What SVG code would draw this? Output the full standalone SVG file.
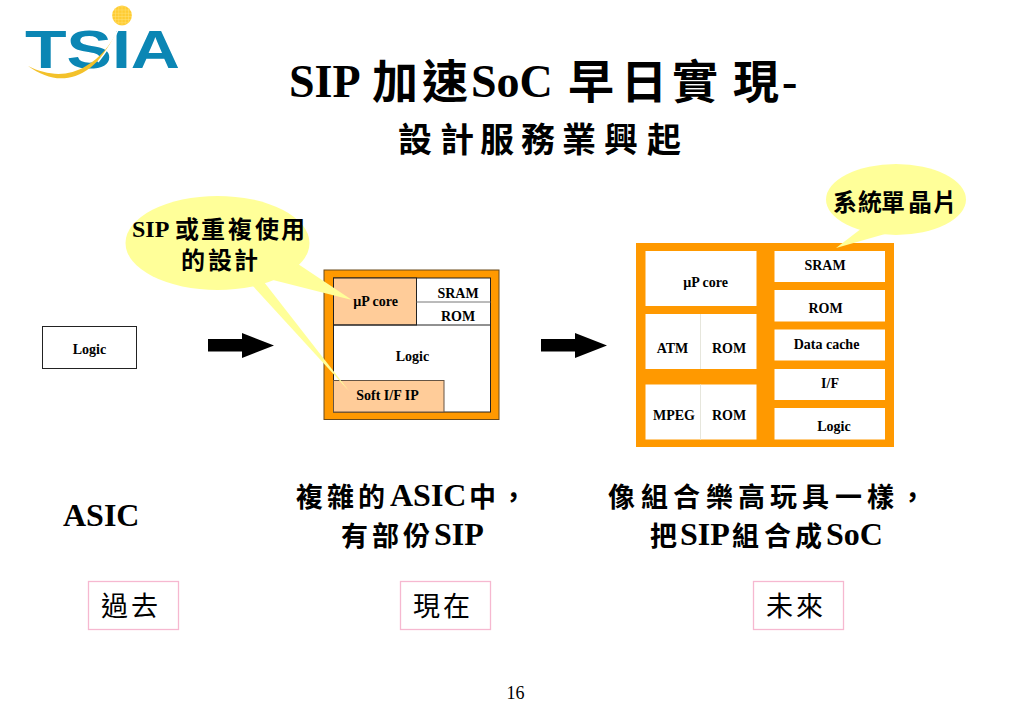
<svg xmlns="http://www.w3.org/2000/svg" width="1023" height="708" viewBox="0 0 1023 708">
<style>
text{font-family:"Liberation Serif","Noto Sans CJK TC",serif;fill:#000}
.b{font-weight:700}
.s{font-size:14px;font-weight:700;text-anchor:middle}
.m{font-size:32px;font-weight:700}
.c{font-family:"Noto Sans CJK TC","Liberation Serif",serif;font-weight:700}
.r{font-family:"Noto Sans CJK TC","Liberation Serif",serif;font-size:27px;font-weight:400;text-anchor:middle;letter-spacing:3px}
.w{fill:#fff}
.o{fill:#f90}
.p{fill:#fc9;stroke:#222;stroke-width:1}
.y{fill:#ff9}
.tag{fill:#fff;stroke:#f6b8d0;stroke-width:1.3}
</style>
<defs>
<pattern id="grid" width="3.2" height="3.2" patternUnits="userSpaceOnUse"><rect width="3.2" height="3.2" fill="#fc3"/><path d="M0 0H3.2M0 0V3.2" stroke="#ffe680" stroke-width=".8"/></pattern>
</defs>
<rect width="1023" height="708" fill="#fff"/>

<g id="logo">
<circle cx="122" cy="15.5" r="10" fill="url(#grid)"/>
<text x="25" y="68" font-size="53" class="b" textLength="155" lengthAdjust="spacingAndGlyphs" style="font-family:'Liberation Sans',sans-serif;fill:#0b86b4">TSIA</text>
<path d="M118 30C110 48 100 60 90 68C68 84 48 80 28 66C48 76 68 77 86 66C100 58 110 46 118 30Z" fill="#f3c12a"/>
<path d="M118 30C112 44 106 52 98 62" fill="none" stroke="#fff" stroke-width="1.5"/>
</g>

<g id="title">
<text y="97" class="b" font-size="46" x="289">SIP</text>
<text y="98" class="c" font-size="46" x="372 422">加速</text>
<text y="97" class="b" font-size="46" x="471">SoC</text>
<text y="98" class="c" font-size="46" x="568 621 672 733">早日實現</text>
<text y="97" class="b" font-size="46" x="782">-</text>
<text y="152" class="c" font-size="34" x="398 440 480 521 562 604 647">設計服務業興起</text>
</g>

<g id="node-logic">
<rect x="42.500" y="326.500" width="94" height="42" fill="#fff" stroke="#222"/>
<text x="89.500" y="353.500" class="s">Logic</text>
</g>

<g id="node-asic-now">
<rect x="324" y="270" width="175" height="149.500" class="o" stroke="#6b4a1a"/>
<rect x="333.500" y="278" width="157" height="134" class="w" stroke="#222"/>
<rect x="333.500" y="278" width="83" height="47" class="p"/>
<path d="M416.500 302H490.500" stroke="#777" fill="none"/>
<path d="M333.500 325H490.500" stroke="#222" fill="none"/>
<rect x="333.500" y="380.500" width="110.500" height="31.500" fill="#fc9" stroke="#654"/>
</g>

<g id="node-soc">
<rect x="636" y="243" width="258" height="204" class="o"/>
<rect x="645.500" y="251" width="111" height="55" class="w"/>
<rect x="645.500" y="314" width="111" height="55" class="w"/>
<rect x="645.500" y="384.500" width="111" height="55" class="w"/>
<path d="M700.500 314V369M700.500 384.500V439.500" stroke="#e6e6dc" fill="none"/>
<rect x="774.500" y="251" width="110.500" height="31" class="w"/>
<rect x="774.500" y="290" width="110.500" height="31.500" class="w"/>
<rect x="774.500" y="329.500" width="110.500" height="31" class="w"/>
<rect x="774.500" y="369" width="110.500" height="31" class="w"/>
<rect x="774.500" y="408" width="110.500" height="31.500" class="w"/>
<text x="705.500" y="286.500" class="s">µP core</text>
<text x="672.500" y="352.500" class="s">ATM</text>
<text x="729" y="352.500" class="s">ROM</text>
<text x="674" y="420" class="s">MPEG</text>
<text x="729" y="420" class="s">ROM</text>
<text x="825" y="270" class="s">SRAM</text>
<text x="825.500" y="313" class="s">ROM</text>
<text x="826.500" y="349" class="s">Data cache</text>
<text x="830" y="388" class="s">I/F</text>
<text x="834" y="431" class="s">Logic</text>
</g>

<g id="callout-sip">
<path d="M298 264L352 300L273 280Z" class="y"/>
<path d="M252 285L264 282L349 391Z" class="y"/>
<ellipse cx="217.500" cy="243" rx="92" ry="47" class="y"/>
<text y="237" class="b" font-size="24" x="132">SIP</text>
<text y="238" class="c" font-size="24" x="175 201 228 255 281">或重複使用</text>
<text y="269" class="c" font-size="24" x="181 208 234">的設計</text>
</g>

<g id="callout-soc">
<path d="M836 248L866 225L892 232Z" class="y"/>
<ellipse cx="896" cy="199.500" rx="70" ry="35.500" class="y"/>
<text y="211" class="c" font-size="24" x="833 858 881 908 933">系統單晶片</text>
</g>

<g id="labels-middle">
<text x="375.500" y="305.500" class="s">µP core</text>
<text x="458" y="297.500" class="s">SRAM</text>
<text x="458" y="321" class="s">ROM</text>
<text x="412.500" y="361" class="s">Logic</text>
<text x="387.500" y="399.500" class="s">Soft I/F IP</text>
</g>

<g id="connectors">
<path d="M208 339H242V333L274 345.500L242 358V351.500H208Z" fill="#000"/>
<path d="M541 339H575V333L607 345.500L575 358V351.500H541Z" fill="#000"/>
</g>

<g id="captions">
<text x="63" y="526" class="m">ASIC</text>
<text y="507" class="c" font-size="27" x="296 327 358">複雜的</text>
<text y="506" class="m" x="390">ASIC</text>
<text y="507" class="c" font-size="27" x="469 500">中，</text>
<text y="546" class="c" font-size="27" x="341 372 403">有部份</text>
<text y="545" class="m" x="434">SIP</text>
<text y="507" class="c" font-size="27" x="608 641 673 706 738 770 802 835 867">像組合樂高玩具一樣</text>
<text y="507" class="c" font-size="27" x="899">，</text>
<text y="546" class="c" font-size="27" x="650">把</text>
<text y="545" class="m" x="680">SIP</text>
<text y="546" class="c" font-size="27" x="732 764 795">組合成</text>
<text y="545" class="m" x="826">SoC</text>
</g>

<g id="tag-past"><rect x="88.500" y="581.500" width="90" height="48" class="tag"/><text x="131" y="616" class="r">過去</text></g>
<g id="tag-now"><rect x="400.500" y="581.500" width="90" height="48" class="tag"/><text x="443" y="616" class="r">現在</text></g>
<g id="tag-future"><rect x="753.500" y="581.500" width="90" height="48" class="tag"/><text x="796" y="616" class="r">未來</text></g>
<text id="page" x="515.500" y="699" font-size="18" text-anchor="middle">16</text>
</svg>
